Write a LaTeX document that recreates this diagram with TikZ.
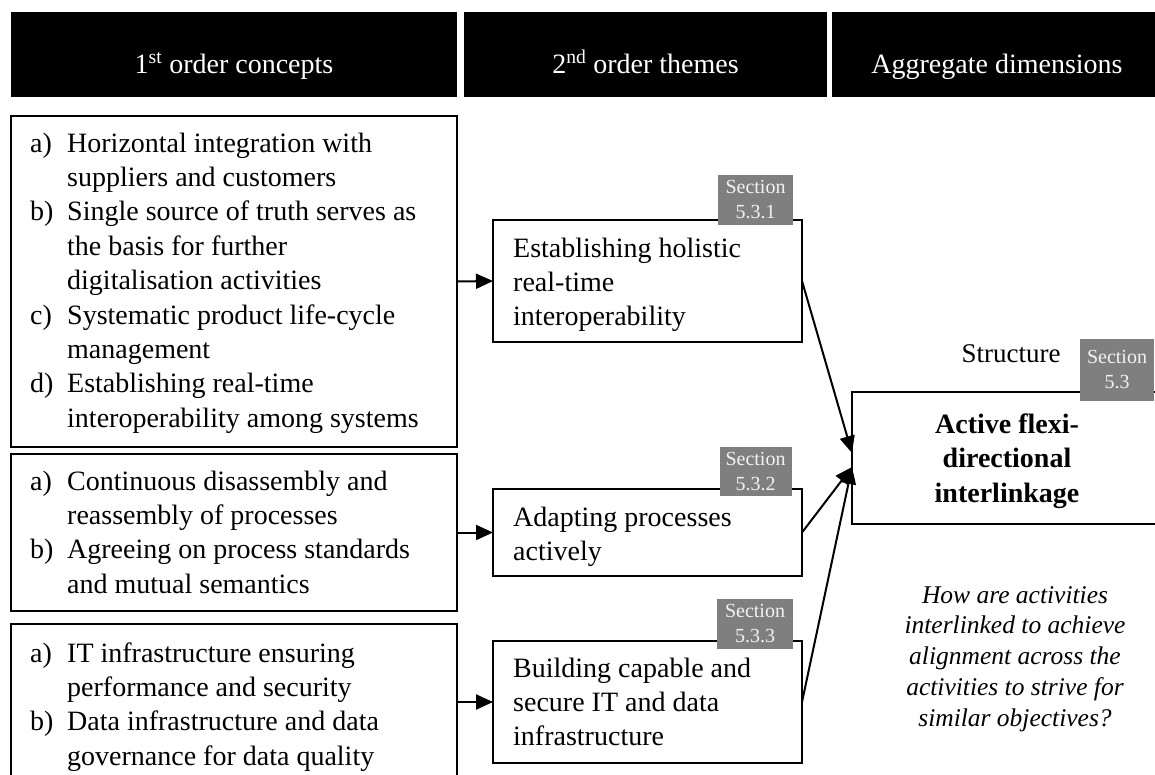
\documentclass[tikz,border=0pt]{standalone}
\usepackage{fontspec}
\setmainfont{Liberation Serif}
\usetikzlibrary{arrows.meta}
\definecolor{tagGray}{HTML}{7F7F7F}
\definecolor{tagText}{HTML}{F2F2F2}
\begin{document}
\begin{tikzpicture}[x=1pt,y=-1pt,
  bar/.style={fill=black, draw=none, anchor=north west, inner sep=0pt, outer sep=0pt},
  hdr/.style={text=white, anchor=base, inner sep=0pt, font=\fontsize{28}{34}\selectfont},
  box/.style={draw=black, line width=2pt, anchor=north west, inner sep=0pt, outer sep=0pt},
  txt/.style={anchor=base west, inner sep=0pt, font=\fontsize{28}{34.4}\selectfont},
  tag/.style={fill=tagGray, text=tagText, inner sep=0pt, outer sep=0pt, align=center, font=\fontsize{20}{25}\selectfont},
  conn/.style={line width=2pt, -{Triangle[length=17pt,width=15pt]}},
]
\useasboundingbox (0,0) rectangle (1155,774);
\fill[white] (0,0) rectangle (1155,774);
\clip (0,0) rectangle (1155,774);

% header bars
\node[bar, minimum width=446pt, minimum height=85pt] (h1) at (11,12) {};
\node[bar, minimum width=363pt, minimum height=85pt] (h2) at (464,12) {};
\node[bar, minimum width=330pt, minimum height=85pt] (h3) at (832,12) {};
\node[hdr] (h1t) at (234,73) {1\textsuperscript{st} order concepts};
\node[hdr] (h2t) at (645.5,73) {2\textsuperscript{nd} order themes};
\node[hdr] (h3t) at (997,73) {Aggregate dimensions};

% first order boxes
\node[box, minimum width=446pt, minimum height=331pt] (b1) at (11,116) {};
\node[box, minimum width=446pt, minimum height=157pt] (b2) at (11,454) {};
\node[box, minimum width=446pt, minimum height=156pt] (b3) at (11,624) {};

\node[txt] (b1t) at (30,152) {\begin{tabular}[t]{@{}p{37pt}@{}l@{}}
a) & Horizontal integration with\\
   & suppliers and customers\\
b) & Single source of truth serves as\\
   & the basis for further\\
   & digitalisation activities\\
c) & Systematic product life-cycle\\
   & management\\
d) & Establishing real-time\\
   & interoperability among systems
\end{tabular}};
\node[txt] (b2t) at (30,490) {\begin{tabular}[t]{@{}p{37pt}@{}l@{}}
a) & Continuous disassembly and\\
   & reassembly of processes\\
b) & Agreeing on process standards\\
   & and mutual semantics
\end{tabular}};
\node[txt] (b3t) at (30,662) {\begin{tabular}[t]{@{}p{37pt}@{}l@{}}
a) & IT infrastructure ensuring\\
   & performance and security\\
b) & Data infrastructure and data\\
   & governance for data quality
\end{tabular}};

% second order boxes
\node[box, minimum width=309pt, minimum height=122pt] (A) at (493,220) {};
\node[box, minimum width=309pt, minimum height=87pt] (B) at (493,489) {};
\node[box, minimum width=309pt, minimum height=122pt] (C) at (493,641) {};
\node[txt] (At) at (513,257) {\begin{tabular}[t]{@{}l@{}}
Establishing holistic\\ real-time\\ interoperability\end{tabular}};
\node[txt] (Bt) at (513,526) {\begin{tabular}[t]{@{}l@{}}
Adapting processes\\ actively\end{tabular}};
\node[txt] (Ct) at (513,677) {\begin{tabular}[t]{@{}l@{}}
Building capable and\\ secure IT and data\\ infrastructure\end{tabular}};

% aggregate box
\node[box, minimum width=310pt, minimum height=132pt] (D) at (852,392) {};
\node[anchor=base, inner sep=0pt, font=\fontsize{28}{34.5}\selectfont\bfseries] (Dt) at (1007,433) {\begin{tabular}[t]{@{}c@{}}
Active flexi-\\ directional\\ interlinkage\end{tabular}};
\node[anchor=base, inner sep=0pt, font=\fontsize{27}{32}\selectfont] (st) at (1011,362) {Structure};
\node[anchor=base, inner sep=0pt, font=\fontsize{25.5}{30.8}\selectfont\itshape] (q) at (1015,603) {\begin{tabular}[t]{@{}c@{}}
How are activities\\ interlinked to achieve\\ alignment across the\\ activities to strive for\\ similar objectives?\end{tabular}};

% section tags
\node[tag, minimum width=75pt, minimum height=50pt] (tA) at (755.5,200) {Section\\5.3.1};
\node[tag, minimum width=72pt, minimum height=49pt] (tB) at (755.5,471.5) {Section\\5.3.2};
\node[tag, minimum width=76pt, minimum height=50pt] (tC) at (755,624) {Section\\5.3.3};
\node[tag, minimum width=74pt, minimum height=62pt] (tD) at (1117,370) {Section\\5.3};

% connectors
\draw[conn] (b1.east) -- (A.west);
\draw[conn] (b2.east) -- (B.west);
\draw[conn] (b3.east) -- (C.west);
\draw[conn] (A.east) -- ([yshift=5pt]D.west);
\draw[conn] (B.east) -- ([yshift=-9pt]D.west);
\draw[conn] (C.east) -- ([yshift=-9pt]D.west);
\end{tikzpicture}
\end{document}
